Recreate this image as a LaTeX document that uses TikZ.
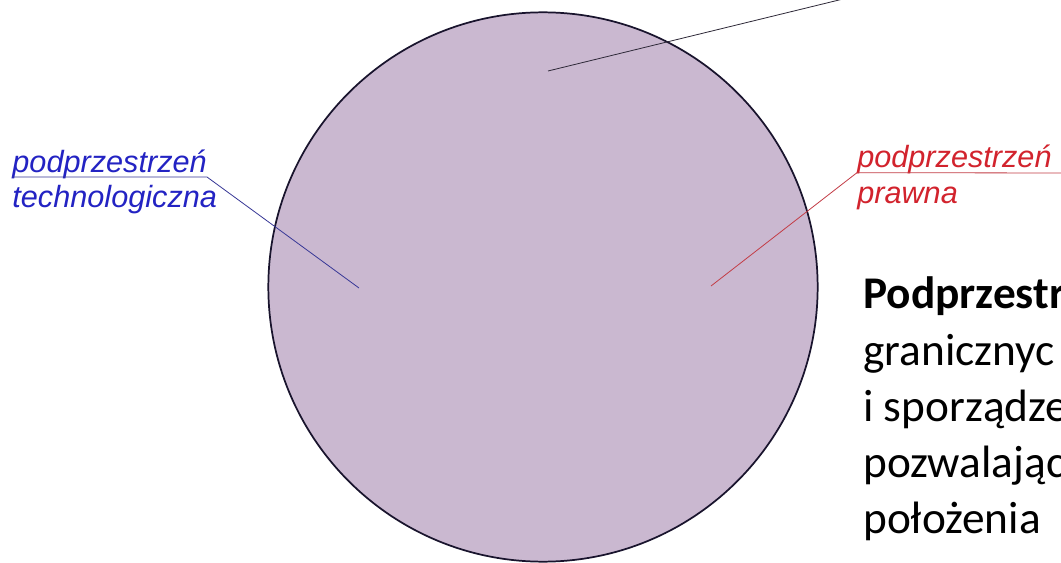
\documentclass[tikz,border=0pt]{standalone}
\usepackage{fontspec}
\setmainfont{Carlito}
\newfontfamily\labelfont{Liberation Sans}
\definecolor{discfill}{RGB}{202,184,208}
\definecolor{discedge}{RGB}{25,20,45}
\definecolor{labblue}{RGB}{35,35,195}
\definecolor{labred}{RGB}{210,35,45}
\definecolor{lineblue}{RGB}{55,55,150}
\definecolor{linered}{RGB}{195,60,70}
\definecolor{linegrey}{RGB}{45,40,55}
\tikzset{
  disc/.style={circle, draw=discedge, line width=1.3pt, fill=discfill, minimum size=412pt, inner sep=0pt},
  lab/.style={font=\labelfont\itshape\fontsize{23}{26}\selectfont, inner sep=0pt},
  bodytext/.style={font=\fontsize{34}{40}\selectfont, anchor=base west, inner sep=0pt, text=black},
  leader/.style={line width=0.6pt}
}
\begin{document}
\begin{tikzpicture}[x=0.75pt,y=-0.75pt]
\useasboundingbox (0,0) rectangle (1061,563);
\fill[white] (0,0) rectangle (1061,563);
\clip (0,0) rectangle (1061,563);

% disc
\node[disc] (sp) at (543,287) {};

% top leader
\coordinate (tl) at (548,71);
\coordinate (tr) at (880,-10);
\draw[leader, linegrey] (tl) -- (tr);

% blue label
\node[lab, text=labblue, anchor=base east] (b1) at (207,173) {podprzestrzeń};
\node[lab, text=labblue, anchor=base west] (b2) at ([yshift=-26pt]b1.base west) {technologiczna};
\coordinate (bu1) at ([yshift=-3pt]b1.base west);
\coordinate (bu2) at ([yshift=-3pt]b1.base east);
\coordinate (bt) at (359,288);
\draw[leader, lineblue] (bu1) -- (bu2) -- (bt);

% red label
\node[lab, text=labred, anchor=base west] (r1) at (857,168) {podprzestrzeń};
\node[lab, text=labred, anchor=base west] (r2) at ([yshift=-27pt]r1.base west) {prawna};
\coordinate (ru1) at ([yshift=-3.5pt]r1.base west);
\coordinate (ru2) at (1070,173);
\coordinate (rt) at (711,286);
\draw[leader, linered] (rt) -- (ru1) -- (ru2);

% body text
\node[bodytext] (t1) at (863,309) {\bfseries Podprzestr};
\node[bodytext] (t2) at (863,365) {granicznyc};
\node[bodytext] (t3) at (863,421) {i sporządze};
\node[bodytext] (t4) at (863,477) {pozwalając};
\node[bodytext] (t5) at (863,533) {położenia};
\end{tikzpicture}
\end{document}
